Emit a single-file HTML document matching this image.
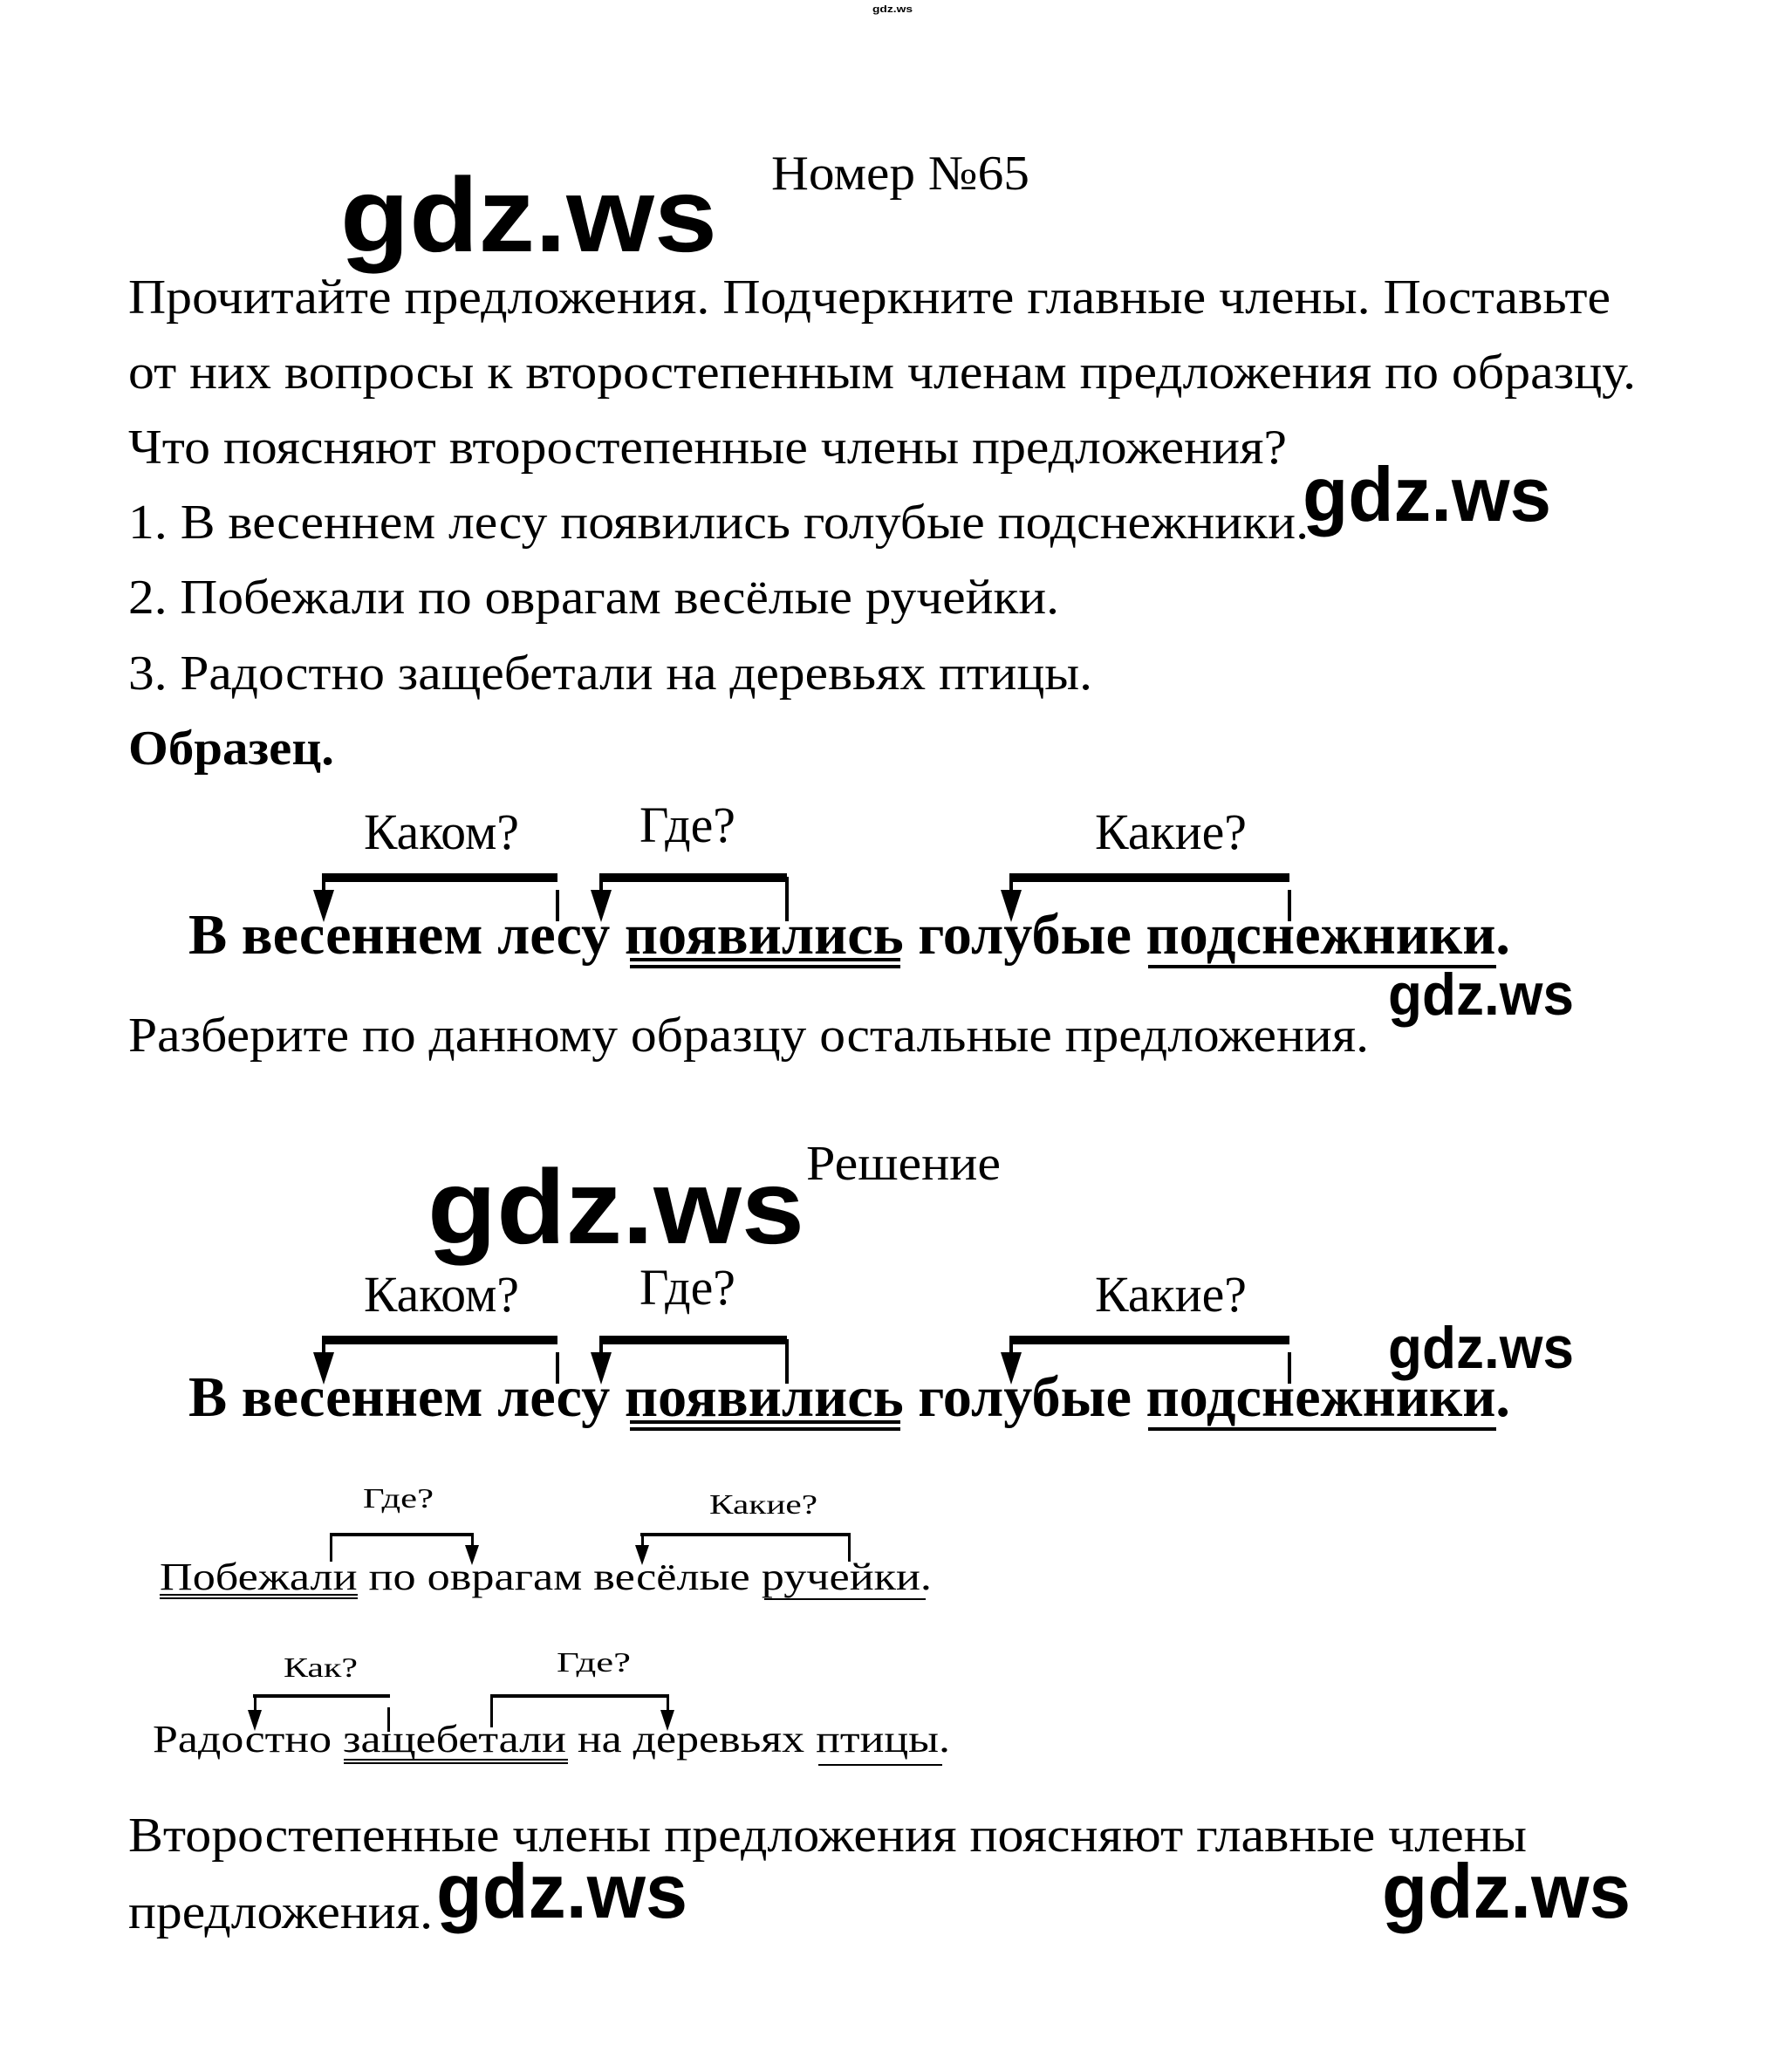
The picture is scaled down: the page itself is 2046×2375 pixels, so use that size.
<!DOCTYPE html>
<html><head><meta charset="utf-8"><style>
html,body{margin:0;padding:0;background:#fff;}
svg{display:block;}
.t{font-family:"Liberation Serif",serif;fill:#000;}
.w{font-family:"Liberation Sans",sans-serif;fill:#000;font-weight:bold;}
</style></head><body>
<svg width="2046" height="2375" viewBox="0 0 2046 2375" xmlns="http://www.w3.org/2000/svg">
<rect width="2046" height="2375" fill="#fff"/>
<text x="1000" y="14" class="w" font-size="11" fill="#88a" textLength="46" lengthAdjust="spacingAndGlyphs">gdz.ws</text>

<text x="884" y="217" class="t" font-size="56" textLength="296" lengthAdjust="spacingAndGlyphs">Номер №65</text>
<text x="390" y="288" class="w" font-size="121" textLength="432" lengthAdjust="spacingAndGlyphs">gdz.ws</text>

<g class="t" font-size="56">
<text x="147" y="359" textLength="1699" lengthAdjust="spacingAndGlyphs">Прочитайте предложения. Подчеркните главные члены. Поставьте</text>
<text x="147" y="445" textLength="1728" lengthAdjust="spacingAndGlyphs">от них вопросы к второстепенным членам предложения по образцу.</text>
<text x="147" y="531" textLength="1328" lengthAdjust="spacingAndGlyphs">Что поясняют второстепенные члены предложения?</text>
<text x="147" y="617" textLength="1353" lengthAdjust="spacingAndGlyphs">1. В весеннем лесу появились голубые подснежники.</text>
<text x="147" y="703" textLength="1067" lengthAdjust="spacingAndGlyphs">2. Побежали по оврагам весёлые ручейки.</text>
<text x="147" y="790" textLength="1105" lengthAdjust="spacingAndGlyphs">3. Радостно защебетали на деревьях птицы.</text>
<text x="147" y="876" font-weight="bold" textLength="236" lengthAdjust="spacingAndGlyphs">Образец.</text>
<text x="147" y="1205" textLength="1422" lengthAdjust="spacingAndGlyphs">Разберите по данному образцу остальные предложения.</text>
<text x="924" y="1352" textLength="223" lengthAdjust="spacingAndGlyphs">Решение</text>
<text x="147" y="2122" textLength="1603" lengthAdjust="spacingAndGlyphs">Второстепенные члены предложения поясняют главные члены</text>
<text x="147" y="2210" textLength="349" lengthAdjust="spacingAndGlyphs">предложения.</text>
</g>

<text x="1493" y="597" class="w" font-size="88" textLength="285" lengthAdjust="spacingAndGlyphs">gdz.ws</text>
<text x="1591" y="1163" class="w" font-size="68" textLength="213" lengthAdjust="spacingAndGlyphs">gdz.ws</text>
<text x="490" y="1425" class="w" font-size="121" textLength="432" lengthAdjust="spacingAndGlyphs">gdz.ws</text>
<text x="1591" y="1568" class="w" font-size="68" textLength="213" lengthAdjust="spacingAndGlyphs">gdz.ws</text>
<text x="500" y="2198" class="w" font-size="88" textLength="288" lengthAdjust="spacingAndGlyphs">gdz.ws</text>
<text x="1584" y="2198" class="w" font-size="88" textLength="285" lengthAdjust="spacingAndGlyphs">gdz.ws</text>

<defs>
<g id="dia">
  <g class="t" font-size="58">
    <text x="417" y="973" textLength="178" lengthAdjust="spacingAndGlyphs">Каком?</text>
    <text x="733" y="965" textLength="110" lengthAdjust="spacingAndGlyphs">Где?</text>
    <text x="1255" y="973" textLength="174" lengthAdjust="spacingAndGlyphs">Какие?</text>
  </g>
  <rect x="369" y="1001" width="270" height="10"/>
  <rect x="687" y="1001" width="215" height="10"/>
  <rect x="1157" y="1001" width="321" height="10"/>
  <rect x="369" y="1005" width="4" height="20"/>
  <polygon points="359,1020 383,1020 371,1057"/>
  <rect x="687" y="1005" width="4" height="20"/>
  <polygon points="677,1020 701,1020 689,1057"/>
  <rect x="1157" y="1005" width="4" height="20"/>
  <polygon points="1147,1020 1171,1020 1159,1057"/>
  <rect x="637" y="1020" width="4" height="36"/>
  <rect x="900" y="1005" width="4" height="51"/>
  <rect x="1476" y="1020" width="4" height="36"/>
  <text x="216" y="1093" class="t" font-weight="bold" font-size="66" textLength="1515" lengthAdjust="spacingAndGlyphs">В весеннем лесу появились голубые подснежники.</text>
  <rect x="722" y="1098" width="310" height="4"/>
  <rect x="722" y="1106" width="310" height="4"/>
  <rect x="1316" y="1106" width="399" height="4"/>
</g>
</defs>
<use href="#dia"/>
<use href="#dia" y="530"/>

<g class="t" font-size="32">
  <text x="416" y="1728" textLength="81" lengthAdjust="spacingAndGlyphs">Где?</text>
  <text x="813" y="1735" textLength="124" lengthAdjust="spacingAndGlyphs">Какие?</text>
</g>
<rect x="378" y="1757" width="165" height="4"/>
<rect x="378" y="1757" width="3" height="33"/>
<rect x="540" y="1757" width="3" height="16"/>
<polygon points="533,1771 549,1771 541,1794"/>
<rect x="734" y="1757" width="241" height="4"/>
<rect x="735" y="1757" width="3" height="16"/>
<polygon points="728,1771 744,1771 736,1794"/>
<rect x="972" y="1757" width="3" height="33"/>
<text x="183" y="1822" class="t" font-size="44" textLength="885" lengthAdjust="spacingAndGlyphs">Побежали по оврагам весёлые ручейки.</text>
<rect x="183" y="1827" width="227" height="2"/>
<rect x="183" y="1831" width="227" height="2"/>
<rect x="876" y="1832" width="185" height="2"/>

<g class="t" font-size="32">
  <text x="325" y="1922" textLength="85" lengthAdjust="spacingAndGlyphs">Как?</text>
  <text x="638" y="1916" textLength="85" lengthAdjust="spacingAndGlyphs">Где?</text>
</g>
<rect x="290" y="1942" width="157" height="4"/>
<rect x="291" y="1942" width="3" height="20"/>
<polygon points="284,1960 300,1960 292,1984"/>
<rect x="444" y="1957" width="3" height="28"/>
<rect x="562" y="1942" width="205" height="4"/>
<rect x="562" y="1942" width="3" height="38"/>
<rect x="764" y="1942" width="3" height="20"/>
<polygon points="757,1960 773,1960 765,1984"/>
<text x="175" y="2008" class="t" font-size="44" textLength="914" lengthAdjust="spacingAndGlyphs">Радостно защебетали на деревьях птицы.</text>
<rect x="394" y="2016" width="257" height="2"/>
<rect x="394" y="2020" width="257" height="2"/>
<rect x="938" y="2022" width="142" height="2"/>
</svg>
</body></html>
